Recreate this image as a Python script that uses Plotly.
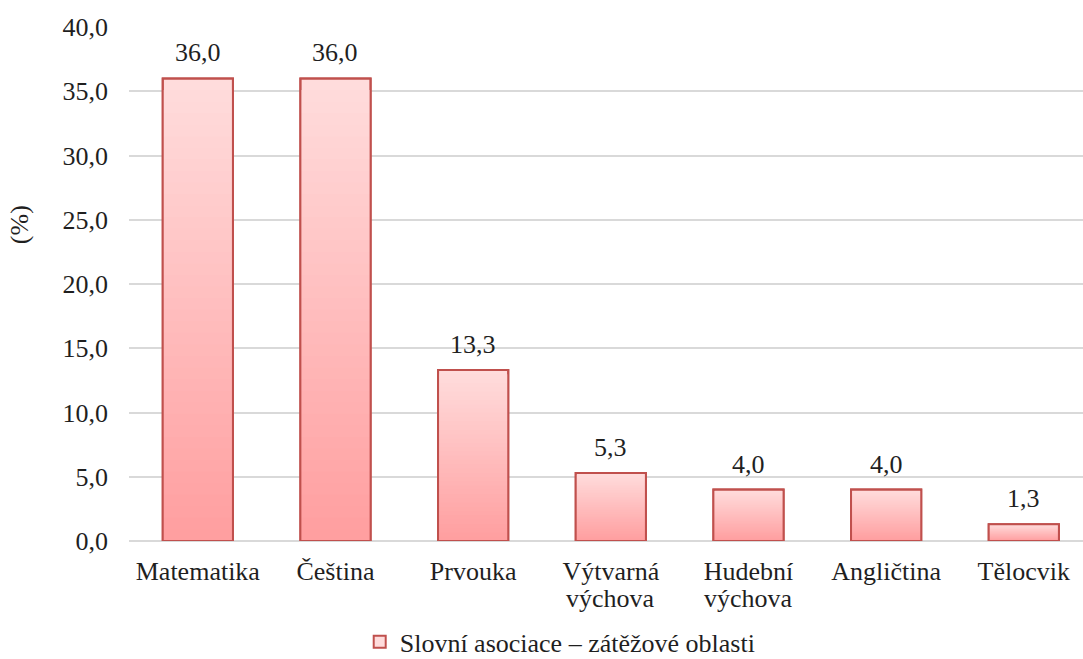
import plotly.graph_objects as go

categories = ["Matematika", "Čeština", "Prvouka", "Výtvarná výchova",
              "Hudební výchova", "Angličtina", "Tělocvik"]
values = [36.0, 36.0, 13.3, 5.3, 4.0, 4.0, 1.3]
series_name = "Slovní asociace – zátěžové oblasti"
y_ticks = [0, 5, 10, 15, 20, 25, 30, 35, 40]

FONT = "Liberation Serif, Times New Roman, serif"
FS = 26
TEXT = "#1f1f1f"
BORDER = "#c0504d"
TOP_RGB = (255, 220, 220)
BOTTOM_RGB = (255, 157, 158)
BAR_W = 0.51
STEPS = 40


def mix(t):
    r, g, b = (round(BOTTOM_RGB[i] + (TOP_RGB[i] - BOTTOM_RGB[i]) * t) for i in range(3))
    return f"rgb({r},{g},{b})"


fig = go.Figure()

# vertical gradient per bar: stacked overlays, each shorter and darker
for k in range(STEPS, 0, -1):
    frac = k / STEPS
    fig.add_trace(go.Bar(
        x=categories, y=[v * frac for v in values], width=BAR_W,
        marker=dict(color=mix(frac), line=dict(width=0)),
        showlegend=(k == STEPS), name=series_name if k == STEPS else None,
        hoverinfo="skip",
    ))
fig.data[0].marker.line = dict(color=BORDER, width=2)

# outline on top of the gradient
fig.add_trace(go.Bar(
    x=categories, y=values, width=BAR_W,
    marker=dict(color="rgba(0,0,0,0)", line=dict(color=BORDER, width=2)),
    showlegend=False, hoverinfo="skip",
))

# value labels above the bars
for cat, v in zip(categories, values):
    fig.add_annotation(
        x=cat, y=v, text=f"{v:.1f}".replace(".", ","), showarrow=False,
        xanchor="center", yanchor="bottom", yshift=9,
        font=dict(family=FONT, size=FS, color=TEXT),
    )

# category labels: first word on the axis, the rest on a tighter second line
tick_text = [c.split(" ", 1)[0] for c in categories]
for cat in categories:
    parts = cat.split(" ", 1)
    if len(parts) > 1:
        fig.add_annotation(
            x=cat, y=0, text=parts[1], showarrow=False,
            xanchor="center", yanchor="middle", yshift=-57,
            font=dict(family=FONT, size=FS, color=TEXT),
        )

fig.add_annotation(
    text="(%)", textangle=-90, xref="paper", yref="paper",
    x=-0.114, y=0.615, xanchor="center", yanchor="middle", showarrow=False,
    font=dict(family=FONT, size=FS, color=TEXT),
)

fig.update_layout(
    width=1083, height=659,
    barmode="overlay",
    separators=", ",
    paper_bgcolor="white", plot_bgcolor="white",
    margin=dict(l=129, r=0, t=27, b=118, autoexpand=False),
    font=dict(family=FONT, size=FS, color=TEXT),
    showlegend=True,
    legend=dict(orientation="h", x=0.452, xanchor="center",
                y=-0.196, yanchor="middle", font=dict(size=FS, color=TEXT)),
    xaxis=dict(range=[-0.5, 6.43], showgrid=False, showline=False,
               tickmode="array", tickvals=categories, ticktext=tick_text,
               ticks="", ticklabelstandoff=12, tickangle=0, automargin=False,
               tickfont=dict(family=FONT, size=FS, color=TEXT)),
    yaxis=dict(range=[0, 40], tickvals=y_ticks, tickformat=".1f",
               showgrid=True, gridcolor="#d9d9d9", gridwidth=1.5,
               zeroline=True, zerolinecolor="#d9d9d9", zerolinewidth=1.5,
               ticks="", ticklabelstandoff=20, automargin=False,
               tickfont=dict(family=FONT, size=FS, color=TEXT)),
)

fig.write_html("out.html")
